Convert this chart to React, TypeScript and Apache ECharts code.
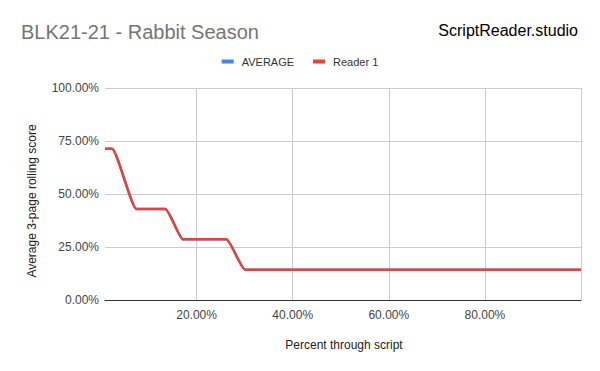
import React, { useEffect, useRef } from "react";
import * as echarts from "echarts";

const FONT = "'Liberation Sans', Arial, sans-serif";

const chartTitle = "BLK21-21 - Rabbit Season";
const brand = "ScriptReader.studio";
const seriesNames = ["AVERAGE", "Reader 1"];
const xAxisTitle = "Percent through script";
const yAxisTitle = "Average 3-page rolling score";

// x: percent through script, y: rolling score (fraction)
const pointsX = [0.94, 2.4, 7.5, 13.5, 17.2, 26.2, 30.1, 100];
const averageY = [0.714, 0.714, 0.429, 0.429, 0.286, 0.286, 0.143, 0.143];
const reader1Y = [0.714, 0.714, 0.429, 0.429, 0.286, 0.286, 0.143, 0.143];

const xTickValues = [20, 40, 60, 80];
const xGridValues = [20, 40, 60, 80, 100];
const yTicks = { min: 0, max: 1, interval: 0.25 };

const colors = ["#4285f4", "#ea4335"];

export default function App() {
  const ref = useRef<HTMLDivElement>(null);

  useEffect(() => {
    if (!ref.current) return;
    const chart = echarts.init(ref.current, undefined, { renderer: "svg" });
    const mk = (ys: number[]) => pointsX.map((x, i) => [x, ys[i]]);
    chart.setOption({
      animation: false,
      backgroundColor: "#ffffff",
      textStyle: { fontFamily: FONT },
      grid: { left: 105, right: 19, top: 88, bottom: 71 },
      legend: {
        top: 51,
        left: "center",
        itemWidth: 12,
        itemHeight: 4,
        itemGap: 19,
        icon: "rect",
        textStyle: { fontSize: 11, color: "#333", fontFamily: FONT, padding: [0, 0, 0, 3] },
        data: seriesNames,
      },
      graphic: [
        {
          type: "text",
          x: 21,
          y: 32,
          style: {
            text: chartTitle,
            fontSize: 20,
            fontFamily: FONT,
            fill: "#757575",
            align: "left",
            verticalAlign: "middle",
          },
        },
        {
          type: "text",
          x: 578,
          y: 30,
          style: {
            text: brand,
            fontSize: 16,
            fontFamily: FONT,
            fill: "#000000",
            align: "right",
            verticalAlign: "middle",
          },
        },
        {
          type: "text",
          x: 32,
          y: 201,
          rotation: Math.PI / 2,
          style: {
            text: yAxisTitle,
            fontSize: 12,
            fontFamily: FONT,
            fill: "#222",
            align: "center",
            verticalAlign: "middle",
          },
        },
        {
          type: "text",
          x: 344,
          y: 345,
          style: {
            text: xAxisTitle,
            fontSize: 12,
            fontFamily: FONT,
            fill: "#222",
            align: "center",
            verticalAlign: "middle",
          },
        },
      ],
      xAxis: {
        type: "value",
        min: pointsX[0],
        max: 100,
        axisLine: { show: true, lineStyle: { color: "#333", width: 1 } },
        axisTick: { show: false, customValues: xGridValues },
        axisLabel: {
          customValues: xTickValues,
          fontSize: 12,
          color: "#444",
          fontFamily: FONT,
          margin: 9,
          formatter: (v: number) => v.toFixed(2) + "%",
        },
        splitLine: { show: true, lineStyle: { color: "#cccccc", width: 1 } },
      },
      yAxis: {
        type: "value",
        min: yTicks.min,
        max: yTicks.max,
        interval: yTicks.interval,
        axisLine: { show: false },
        axisTick: { show: false },
        axisLabel: {
          fontSize: 12,
          color: "#444",
          fontFamily: FONT,
          margin: 6,
          formatter: (v: number) => (v * 100).toFixed(2) + "%",
        },
        splitLine: { show: true, lineStyle: { color: "#cccccc", width: 1 } },
      },
      series: [
        {
          name: seriesNames[0],
          type: "line",
          data: mk(averageY),
          smooth: 0.2,
          smoothMonotone: "x",
          showSymbol: false,
          symbol: "none",
          lineStyle: { color: colors[0], width: 2.5 },
          itemStyle: { color: colors[0] },
          z: 2,
        },
        {
          name: seriesNames[1],
          type: "line",
          data: mk(reader1Y),
          smooth: 0.2,
          smoothMonotone: "x",
          showSymbol: false,
          symbol: "none",
          lineStyle: { color: colors[1], width: 2.5 },
          itemStyle: { color: colors[1] },
          z: 3,
        },
      ],
    });
    return () => chart.dispose();
  }, []);

  return (
    <div
      ref={ref}
      style={{ position: "fixed", left: 0, top: 0, width: 600, height: 371 }}
    />
  );
}
